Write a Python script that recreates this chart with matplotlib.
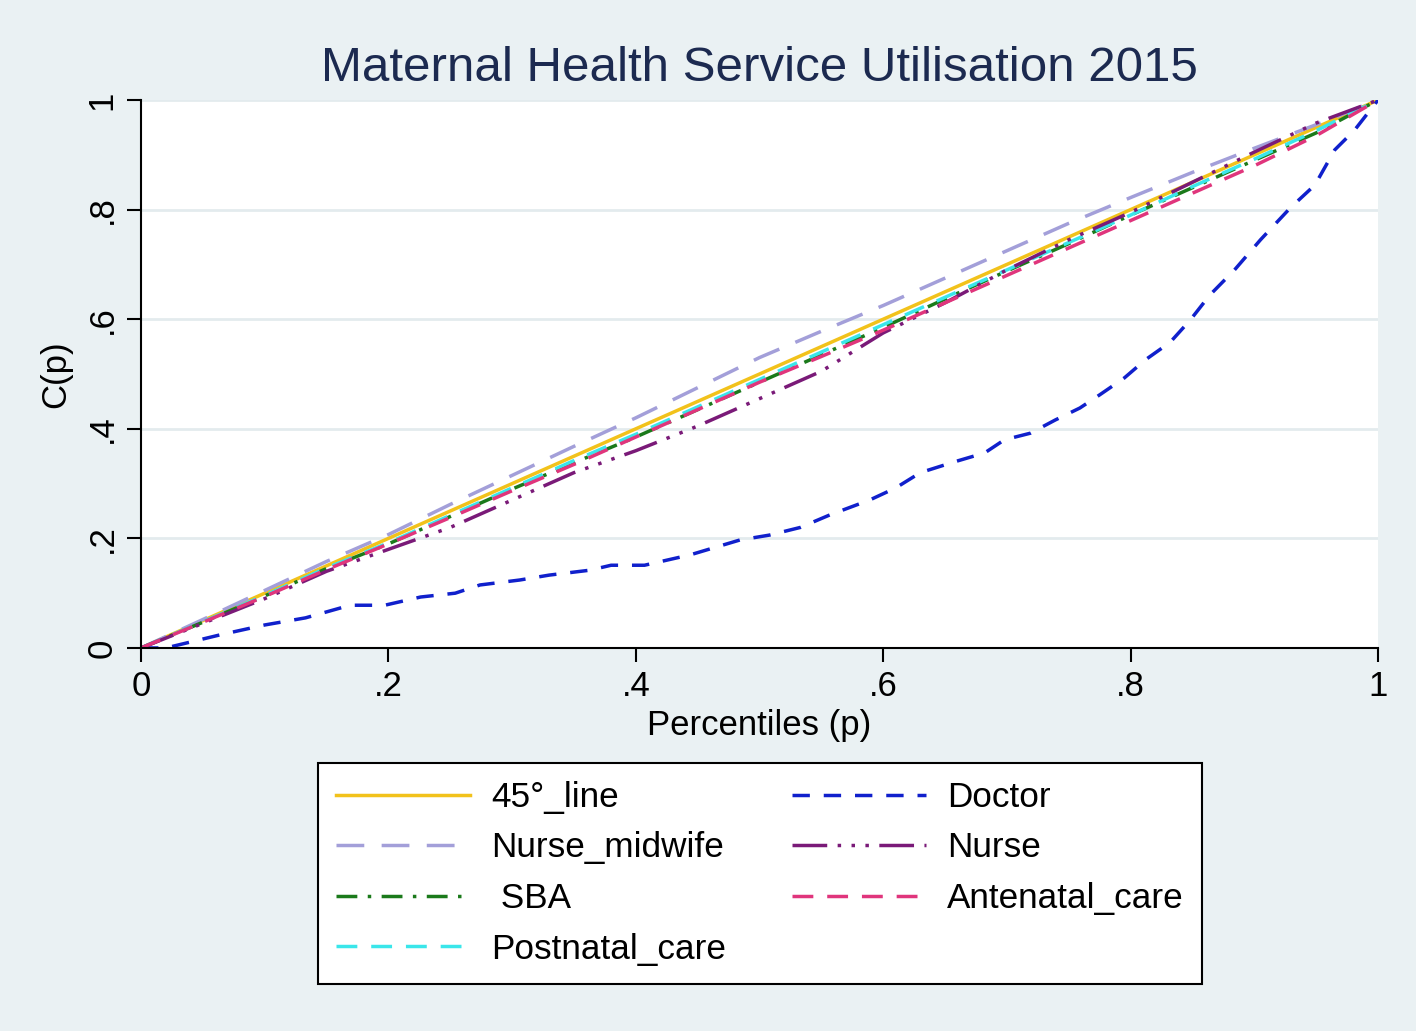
import numpy as np
import matplotlib.pyplot as plt
plt.switch_backend('agg')

plt.rcParams['font.family'] = ['Liberation Sans', 'DejaVu Sans']

# percentile grid for the near-diagonal curves
p = [0, .05, .1, .15, .2, .25, .3, .35, .4, .45, .5,
     .55, .6, .65, .7, .75, .8, .85, .9, .95, 1]
midwife = [0, .052, .105, .158, .207, .262, .315, .368, .42, .475, .53,
           .578, .625, .675, .725, .775, .822, .868, .912, .955, 1]
nurse = [0, .045, .09, .14, .18, .22, .27, .32, .36, .405, .455,
         .505, .575, .63, .69, .745, .795, .85, .905, .958, 1]
sba = [0, .047, .095, .145, .19, .24, .29, .338, .385, .435, .485,
       .535, .585, .637, .688, .738, .79, .84, .89, .94, 1]
antenatal = [0, .047, .094, .143, .19, .238, .287, .335, .385, .435, .485,
             .532, .58, .63, .68, .73, .78, .83, .88, .935, 1]
postnatal = [0, .048, .096, .146, .192, .242, .292, .342, .39, .44, .49,
             .54, .59, .64, .69, .74, .79, .842, .892, .944, 1]

# doctor concentration curve
p_doc = [0, .02, .064, .1, .133, .169, .197, .226, .254, .274, .306, .33,
         .363, .38, .407, .444, .484, .508, .533, .557, .589, .61, .63,
         .658, .682, .698, .719, .739, .759, .775, .795, .812, .832, .848,
         .864, .884, .905, .929, .949, .965, .981, 1]
doctor = [0, 0, .024, .042, .055, .078, .078, .093, .10, .115, .124, .133,
          .142, .151, .151, .17, .197, .206, .22, .243, .27, .292, .32,
          .34, .356, .38, .392, .416, .438, .462, .493, .526, .558, .598,
          .644, .69, .745, .803, .845, .909, .945, 1]

bg = '#eaf1f3'
fig = plt.figure(figsize=(14.16, 10.31), dpi=100, facecolor=bg)
ax = fig.add_axes([0.0996, 0.3715, 0.8736, 0.5315])
ax.set_facecolor('white')

ax.plot([0, 1], [0, 1], '-', color='#f2c21b', lw=2.5, label='45°_line')
ax.plot(p, midwife, color='#a39fd9', lw=2.5, dashes=(8, 5), label='Nurse_midwife')
ax.plot(p, sba, color='#1b7a1b', lw=2.5, dashes=(6, 3, 1, 3), label=' SBA')
ax.plot(p, postnatal, color='#3ae6ea', lw=2.5, dashes=(6, 4), label='Postnatal_care')
ax.plot(p_doc, doctor, color='#1020cc', lw=2.5, dashes=(5, 4), label='Doctor')
ax.plot(p, nurse, color='#7a1a78', lw=2.5, dashes=(10, 3, 1, 3, 1, 3, 1, 3),
        label='Nurse')
ax.plot(p, antenatal, color='#e0357c', lw=2.5, dashes=(6, 4), label='Antenatal_care')

ax.set_xlim(0, 1)
ax.set_ylim(0, 1)
ticks = [0, .2, .4, .6, .8, 1]
labels = ['0', '.2', '.4', '.6', '.8', '1']
ax.set_xticks(ticks, labels)
ax.set_yticks(ticks, labels)
for lab in ax.get_yticklabels():
    lab.set_rotation(90)
    lab.set_va('center')
ax.tick_params(labelsize=25, length=10, width=1.5, direction='out', pad=6)
ax.grid(axis='y', color='#e3ebee', lw=2)
ax.set_axisbelow(True)
for s in ['top', 'right']:
    ax.spines[s].set_visible(False)
for s in ['left', 'bottom']:
    ax.spines[s].set_linewidth(1.5)

ax.set_xlabel('Percentiles (p)', fontsize=25, labelpad=4)
ax.set_ylabel('C(p)', fontsize=25, labelpad=10)
ax.set_title('Maternal Health Service Utilisation 2015', fontsize=35.5,
             color='#1c2a50', pad=14)

leg = fig.legend(loc='center', bbox_to_anchor=(0.5367, 0.1530), ncol=2,
                 fontsize=25.3, frameon=True, fancybox=False, edgecolor='black',
                 framealpha=1, handlelength=3.8, handletextpad=0.6,
                 columnspacing=1.9, labelspacing=0.5, borderpad=0.52)
leg.get_frame().set_linewidth(1.5)

fig.savefig('out.png', dpi=100, facecolor=bg)
